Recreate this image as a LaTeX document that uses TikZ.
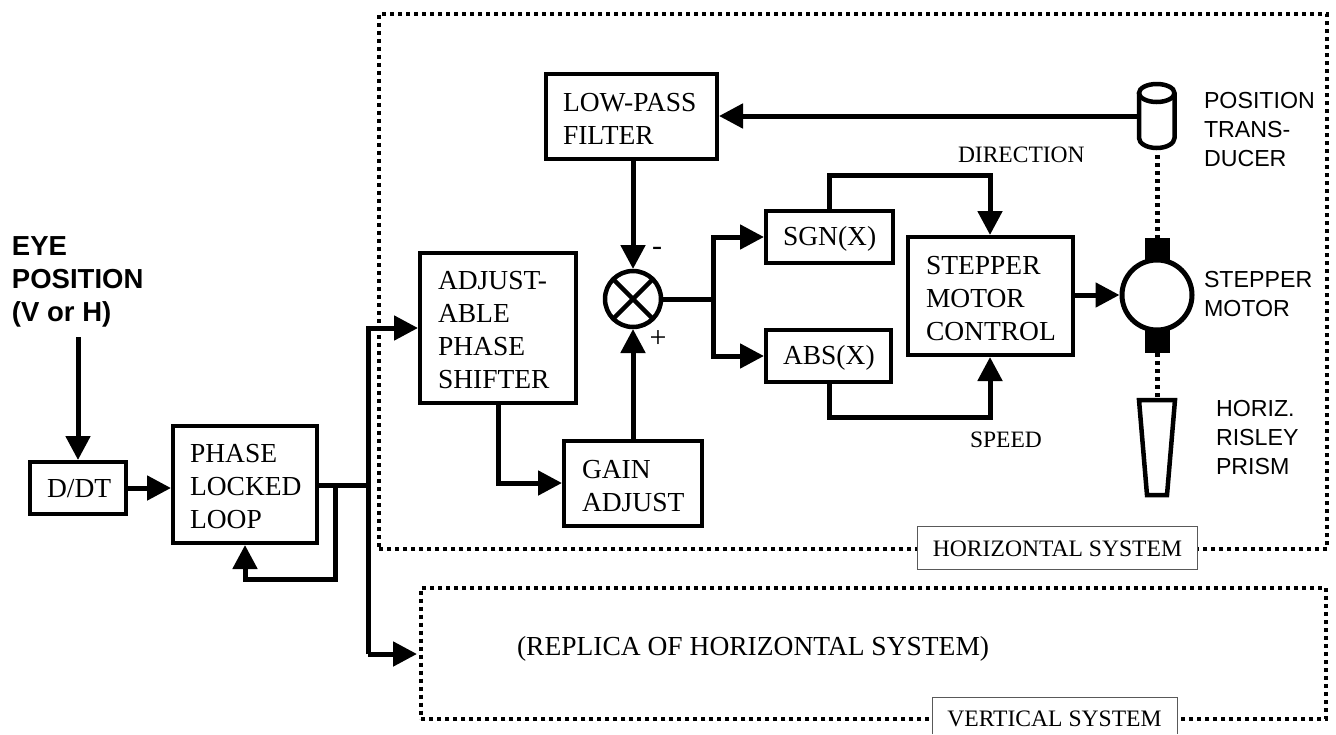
\documentclass[tikz,border=0pt]{standalone}
\usepackage{fontspec}
\setmainfont{Liberation Serif}
\newfontfamily\sansf{Liberation Sans}
\usetikzlibrary{arrows.meta}
\tikzset{
  bx/.style={draw,line width=4pt,outer sep=2pt,inner sep=0pt,fill=white},
  wire/.style={line width=5pt,line cap=butt,line join=miter},
  arr/.style={wire,-{Triangle[length=24pt,width=24pt]}},
  dots/.style={draw,line width=4pt,dash pattern=on 4pt off 4pt,outer sep=0pt,inner sep=0pt},
  lbl/.style={inner sep=0pt,outer sep=0pt,align=left,anchor=west},
  big/.style={lbl,font=\fontsize{27.5}{33}\selectfont,yshift=-1pt},
  sm/.style={lbl,font=\fontsize{23.5}{26}\selectfont},
  sans/.style={lbl,font=\sansf\fontsize{23.2}{29}\selectfont},
  sansb/.style={lbl,font=\sansf\bfseries\fontsize{27.5}{33}\selectfont},
  graybox/.style={fill=white,draw=black!65,line width=1pt,outer sep=0pt,inner sep=0pt},
}
\begin{document}
\begin{tikzpicture}[x=1pt,y=-1pt]
\useasboundingbox (0,0) rectangle (1336,734);
% dotted system frames
\node[dots,minimum width=948pt,minimum height=535pt] (hsys) at (853,281.5) {};
\node[dots,minimum width=905pt,minimum height=131pt] (vsys) at (873.5,653) {};
\node[graybox,minimum width=280pt,minimum height=43pt] (hlab) at (1057,547.5) {};
\node[font=\fontsize{23.6}{26}\selectfont,inner sep=0pt] (htxt) at (1057.5,549) {HORIZONTAL SYSTEM};
\node[fill=white,outer sep=0pt,inner sep=0pt,minimum width=245pt,minimum height=37pt] (vlab) at (1054.5,715.5) {};
\node[font=\fontsize{23.6}{26}\selectfont,inner sep=0pt] (vtxt) at (1054.5,718.5) {VERTICAL SYSTEM};
\draw[draw=black!65,line width=1pt] (vlab.south west) -- (vlab.north west) -- (vlab.north east) -- (vlab.south east);
\node[big] (rep) at (517,648) {(REPLICA OF HORIZONTAL SYSTEM)};
% blocks
\node[bx,minimum width=96pt,minimum height=52pt] (ddt) at (78,488) {};
\node[big] (ddtt) at (47,488) {D/DT};
\node[bx,minimum width=144pt,minimum height=117pt] (pll) at (245,484.5) {};
\node[big] (pllt) at (190,486) {PHASE\\LOCKED\\LOOP};
\node[bx,minimum width=156pt,minimum height=150pt] (adj) at (498,328) {};
\node[big] (adjt) at (438,329.5) {ADJUST-\\ABLE\\PHASE\\SHIFTER};
\node[bx,minimum width=138pt,minimum height=85pt] (gain) at (633,483.5) {};
\node[big] (gaint) at (582,485.5) {GAIN\\ADJUST};
\node[bx,minimum width=171pt,minimum height=85pt] (lp) at (631.5,116.5) {};
\node[big] (lpt) at (563,118) {LOW-PASS\\FILTER};
\node[bx,minimum width=127pt,minimum height=52pt] (sgn) at (829.5,237) {};
\node[big] (sgnt) at (783,238) {SGN(X)};
\node[bx,minimum width=125pt,minimum height=52pt] (abs) at (828.5,356) {};
\node[big] (abst) at (783,357) {ABS(X)};
\node[bx,minimum width=165pt,minimum height=118pt] (ctl) at (990.5,296) {};
\node[big] (ctlt) at (926,298) {STEPPER\\MOTOR\\CONTROL};
\node[bx,circle,line width=4.5pt,minimum size=56pt] (sum) at (633,299) {};
\draw[line width=4.5pt] (sum.45) -- (sum.225) (sum.135) -- (sum.315);
\node[lbl,anchor=center,font=\fontsize{30}{30}\selectfont] (minus) at (657,251) {-};
\node[lbl,anchor=center,font=\fontsize{30}{30}\selectfont] (plus) at (658,339) {+};
% motor
\node[fill=black,minimum width=25pt,minimum height=24pt,inner sep=0pt,outer sep=0pt] (mtop) at (1157,250) {};
\node[fill=black,minimum width=25pt,minimum height=27pt,inner sep=0pt,outer sep=0pt] (mbot) at (1157,339.5) {};
\node[bx,circle,line width=5pt,outer sep=2.5pt,minimum size=70pt] (mot) at (1157,295) {};
% transducer
\coordinate (tbot) at (1157,155);
\coordinate (tw) at (1139,116);
\draw[line width=4.5pt,fill=white] (1139,93) -- (1139,138) arc[start angle=180,end angle=360,x radius=17.75,y radius=-10] -- (1174.5,93);
\draw[line width=4.5pt,fill=white] (1156.75,93) ellipse[x radius=17.75,y radius=9];
% prism
\node[inner sep=0pt] (pr) at (1157,399) {};
\draw[line width=4.5pt,fill=white,line join=miter] (1139,400) -- (1175,400) -- (1167,495) -- (1147,495) -- cycle;
% dotted shaft
\draw[wire,dash pattern=on 4pt off 4pt] (tbot) -- (mtop.north);
\draw[wire,dash pattern=on 4pt off 4pt] (mbot.south) -- (pr);
% wires
\coordinate (eye) at (78,337);
\draw[arr] (eye) -- (ddt.north);
\draw[arr] (ddt.east) -- (pll.west |- ddt.east);
\coordinate (bus) at (368,485);
\coordinate (bt) at (368,328);
\coordinate (bb) at (368,654);
\coordinate (fb) at (335,485);
\coordinate (fbb) at (335,579);
\coordinate (fbc) at (245,579);
\draw[wire] (pll.east |- bus) -- (bus);
\draw[arr] (fb) -- (fbb) -- (fbc) -- (pll.south);
\draw[arr] (bb) -- (bt) -- (adj.west |- bt);
\draw[arr] (bb) -- (417,654);
\coordinate (adjd) at (498,483);
\draw[arr] (adj.south -| adjd) -- (adjd) -- (gain.west |- adjd);
\draw[arr] (gain.north -| sum) -- (sum.south);
\draw[arr] (lp.south -| sum) -- (sum.north);
\draw[arr] (tw) -- (lp.east |- tw);
\coordinate (sp) at (713,299);
\draw[wire] (sum.east) -- (sp);
\draw[arr] (sp) |- (sgn.west);
\draw[arr] (sp) |- (abs.west);
\coordinate (dirc) at (829.5,175);
\coordinate (dire) at (990,175);
\draw[arr] (sgn.north) -- (dirc) -- (dire) -- (ctl.north -| dire);
\coordinate (spc) at (829,417);
\coordinate (spe) at (990,417);
\draw[arr] (abs.south -| spc) -- (spc) -- (spe) -- (ctl.south -| spe);
\draw[arr] (ctl.east |- mot) -- (mot.west);
% labels
\node[sm] (dirl) at (958,155) {DIRECTION};
\node[sm] (spl) at (970,440) {SPEED};
\node[sans] (pos) at (1204,130) {POSITION\\TRANS-\\DUCER};
\node[sans] (stm) at (1204,294) {STEPPER\\MOTOR};
\node[sans] (hrp) at (1216,438) {HORIZ.\\RISLEY\\PRISM};
\node[sansb] (epos) at (12,282) {EYE\\POSITION\\(V or H)};
\end{tikzpicture}
\end{document}
